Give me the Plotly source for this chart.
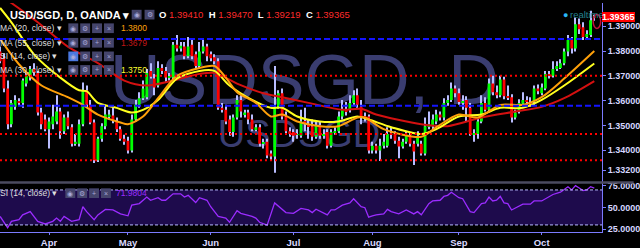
import plotly.graph_objects as go

# ---------------- data ----------------
month_labels = ["Apr", "May", "Jun", "Jul", "Aug", "Sep", "Oct"]
month_first_bar = [13, 34, 56, 78, 99, 122, 144]
price_ticks = [1.332, 1.34, 1.35, 1.36, 1.37, 1.38, 1.39]
rsi_ticks = [25, 50, 75]

open_ = [1.3798,1.3771,1.3649,1.3505,1.3575,1.3595,1.3591,1.3669,1.3693,1.3728,
         1.3712,1.3552,1.3524,1.3485,1.3505,1.3516,1.3556,1.3477,1.3532,1.3493,
         1.3426,1.3426,1.3505,1.3642,1.3583,1.3512,1.3360,1.3446,1.3497,1.3536,
         1.3540,1.3516,1.3485,1.3446,1.3438,1.3399,1.3524,1.3583,1.3610,1.3614,
         1.3720,1.3689,1.3661,1.3732,1.3720,1.3693,1.3693,1.3826,1.3810,1.3818,
         1.3779,1.3826,1.3787,1.3740,1.3798,1.3818,1.3787,1.3775,1.3759,1.3571,
         1.3563,1.3524,1.3473,1.3532,1.3603,1.3544,1.3552,1.3524,1.3485,1.3493,
         1.3426,1.3434,1.3387,1.3375,1.3575,1.3630,1.3536,1.3477,1.3473,1.3462,
         1.3458,1.3516,1.3505,1.3497,1.3454,1.3501,1.3458,1.3473,1.3418,1.3473,
         1.3477,1.3536,1.3563,1.3563,1.3591,1.3622,1.3575,1.3536,1.3536,1.3399,
         1.3418,1.3399,1.3418,1.3418,1.3465,1.3465,1.3438,1.3415,1.3434,1.3458,
         1.3426,1.3426,1.3426,1.3387,1.3497,1.3497,1.3516,1.3544,1.3532,1.3591,
         1.3603,1.3649,1.3630,1.3591,1.3603,1.3571,1.3465,1.3465,1.3516,1.3591,
         1.3563,1.3669,1.3634,1.3622,1.3685,1.3618,1.3614,1.3532,1.3556,1.3587,
         1.3603,1.3595,1.3595,1.3649,1.3630,1.3649,1.3708,1.3700,1.3728,1.3732,
         1.3751,1.3798,1.3845,1.3810,1.3908,1.3896,1.3857,1.3865,1.39410]

high = [1.3818,1.3790,1.3681,1.3603,1.3622,1.3610,1.3689,1.3712,1.3740,1.3751,
        1.3720,1.3571,1.3544,1.3532,1.3583,1.3622,1.3571,1.3544,1.3556,1.3505,
        1.3465,1.3524,1.3673,1.3661,1.3603,1.3524,1.3454,1.3509,1.3583,1.3563,
        1.3571,1.3532,1.3497,1.3462,1.3454,1.3544,1.3603,1.3634,1.3681,1.3728,
        1.3751,1.3708,1.3759,1.3747,1.3736,1.3712,1.3837,1.3865,1.3837,1.3837,
        1.3857,1.3845,1.3798,1.3837,1.3845,1.3830,1.3798,1.3787,1.3771,1.3591,
        1.3583,1.3540,1.3544,1.3622,1.3622,1.3563,1.3563,1.3544,1.3505,1.3505,
        1.3446,1.3446,1.3399,1.3740,1.3642,1.3649,1.3556,1.3493,1.3485,1.3485,
        1.3563,1.3571,1.3524,1.3524,1.3516,1.3516,1.3485,1.3485,1.3485,1.3493,
        1.3556,1.3603,1.3595,1.3622,1.3642,1.3649,1.3603,1.3552,1.3544,1.3434,
        1.3426,1.3446,1.3465,1.3493,1.3493,1.3477,1.3454,1.3446,1.3473,1.3473,
        1.3438,1.3477,1.3438,1.3532,1.3556,1.3544,1.3563,1.3556,1.3610,1.3622,
        1.3673,1.3661,1.3649,1.3622,1.3618,1.3591,1.3485,1.3532,1.3622,1.3614,
        1.3689,1.3700,1.3661,1.3700,1.3696,1.3661,1.3626,1.3563,1.3606,1.3634,
        1.3618,1.3614,1.3661,1.3665,1.3669,1.3720,1.3720,1.3759,1.3759,1.3767,
        1.3810,1.3865,1.3857,1.3935,1.3931,1.3916,1.3884,1.3963,1.39470]

low = [1.3751,1.3634,1.3485,1.3493,1.3563,1.3579,1.3571,1.3657,1.3681,1.3700,
       1.3540,1.3485,1.3477,1.3407,1.3485,1.3505,1.3446,1.3465,1.3485,1.3415,
       1.3418,1.3415,1.3497,1.3571,1.3505,1.3348,1.3352,1.3434,1.3485,1.3524,
       1.3509,1.3473,1.3438,1.3422,1.3387,1.3391,1.3516,1.3571,1.3603,1.3606,
       1.3689,1.3622,1.3653,1.3708,1.3673,1.3681,1.3685,1.3798,1.3798,1.3767,
       1.3771,1.3767,1.3728,1.3732,1.3790,1.3759,1.3759,1.3747,1.3563,1.3552,
       1.3505,1.3458,1.3454,1.3524,1.3532,1.3532,1.3505,1.3477,1.3477,1.3415,
       1.3407,1.3368,1.3360,1.3309,1.3567,1.3524,1.3465,1.3454,1.3434,1.3446,
       1.3450,1.3477,1.3446,1.3438,1.3446,1.3446,1.3446,1.3407,1.3411,1.3462,
       1.3469,1.3524,1.3540,1.3552,1.3583,1.3571,1.3505,1.3516,1.3387,1.3387,
       1.3387,1.3356,1.3407,1.3411,1.3446,1.3426,1.3368,1.3407,1.3426,1.3415,
       1.3340,1.3415,1.3379,1.3379,1.3485,1.3485,1.3505,1.3520,1.3520,1.3579,
       1.3595,1.3614,1.3583,1.3563,1.3516,1.3458,1.3434,1.3446,1.3509,1.3556,
       1.3556,1.3622,1.3610,1.3614,1.3606,1.3603,1.3512,1.3524,1.3548,1.3579,
       1.3583,1.3575,1.3583,1.3626,1.3622,1.3642,1.3689,1.3693,1.3720,1.3728,
       1.3743,1.3779,1.3790,1.3798,1.3869,1.3845,1.3845,1.3857,1.39219]

close = [1.3759,1.3649,1.3505,1.3591,1.3603,1.3591,1.3681,1.3700,1.3728,1.3712,
         1.3552,1.3505,1.3485,1.3516,1.3536,1.3556,1.3477,1.3532,1.3497,1.3426,
         1.3434,1.3505,1.3642,1.3583,1.3512,1.3360,1.3446,1.3497,1.3544,1.3544,
         1.3520,1.3485,1.3446,1.3434,1.3399,1.3524,1.3583,1.3610,1.3649,1.3712,
         1.3700,1.3653,1.3732,1.3720,1.3693,1.3696,1.3826,1.3810,1.3822,1.3779,
         1.3818,1.3779,1.3740,1.3798,1.3818,1.3779,1.3771,1.3759,1.3571,1.3563,
         1.3516,1.3473,1.3532,1.3603,1.3556,1.3552,1.3524,1.3485,1.3493,1.3426,
         1.3430,1.3379,1.3375,1.3575,1.3630,1.3536,1.3477,1.3465,1.3458,1.3465,
         1.3516,1.3512,1.3497,1.3454,1.3501,1.3458,1.3462,1.3418,1.3473,1.3477,
         1.3536,1.3563,1.3556,1.3591,1.3622,1.3583,1.3536,1.3532,1.3399,1.3418,
         1.3399,1.3418,1.3434,1.3465,1.3462,1.3438,1.3415,1.3434,1.3458,1.3426,
         1.3395,1.3458,1.3387,1.3497,1.3505,1.3524,1.3544,1.3532,1.3591,1.3603,
         1.3649,1.3630,1.3595,1.3599,1.3571,1.3465,1.3469,1.3516,1.3591,1.3563,
         1.3669,1.3634,1.3622,1.3685,1.3618,1.3614,1.3532,1.3552,1.3591,1.3603,
         1.3595,1.3583,1.3649,1.3638,1.3653,1.3708,1.3700,1.3728,1.3740,1.3751,
         1.3798,1.3845,1.3810,1.3908,1.3888,1.3857,1.3869,1.3924,1.39365]

# moving averages, read at sample bars
ema20_bar = [0,5,11,18,22,26,32,34,38,42,47,53,57,60,63,68,72,75,79,85,
             90,95,97,102,112,116,122,127,133,139,144,150,158]
ema20_val = [1.3849,1.3747,1.3661,1.3614,1.3583,1.3544,1.3512,1.3505,1.3536,1.3610,
             1.3700,1.3732,1.3740,1.3693,1.3634,1.3591,1.3536,1.3544,1.3516,1.3497,
             1.3497,1.3532,1.3532,1.3485,1.3454,1.3493,1.3544,1.3532,1.3583,1.3583,
             1.3614,1.3689,1.3800]
ema30_bar = [0,3,9,16,21,23,26,31,35,38,42,47,53,57,61,67,72,75,79,85,
             90,95,98,104,112,116,122,128,133,139,144,150,158]
ema30_val = [1.3974,1.3916,1.3787,1.3693,1.3642,1.3638,1.3591,1.3571,1.3552,1.3563,
             1.3603,1.3689,1.3720,1.3720,1.3661,1.3603,1.3571,1.3571,1.3536,1.3516,
             1.3516,1.3536,1.3524,1.3493,1.3465,1.3485,1.3536,1.3544,1.3571,1.3571,
             1.3603,1.3661,1.3750]
ema55_bar = [0,3,10,18,26,33,39,46,53,57,63,70,75,82,91,96,100,112,119,128,137,144,150,158]
ema55_val = [1.4025,1.3994,1.3916,1.3818,1.3751,1.3681,1.3661,1.3681,1.3708,1.3712,
             1.3669,1.3630,1.3614,1.3591,1.3563,1.3567,1.3544,1.3505,1.3497,1.3532,
             1.3556,1.3575,1.3610,1.3679]

rsi_bar = [0,2,3,5,6,8,10,12,14,15, 16,17,19,21,22,23,25,26,28,30,
           32,34,35,37,39,40,42,43,44,46, 48,49,50,52,53,55,56,58,60,61,
           63,64,67,68,69,71,73,75,76,78, 80,82,83,84,85,87,88,89,91,93,
           94,96,97,98,99,100,102,103,104,106, 108,110,111,112,114,115,117,118,119,120,
           122,123,125,126,128,129,130,131,132,133, 134,135,136,138,139,141,142,144,146,147,
           149,150,151,152,153,154,155,156,157,158]
rsi_val = [39.7,26.7,34.1,36.0,41.5,45.2,34.1,31.1,34.1,37.8, 34.1,39.7,34.1,36.0,50.8,45.2,36.0,41.5,47.8,47.1,
           42.6,40.4,52.6,54.4,61.9,58.2,61.1,58.2,58.2,65.6, 65.6,61.9,63.8,55.6,61.1,58.2,50.8,39.7,37.8,33.0,
           46.3,43.3,39.7,37.8,33.0,29.7,55.2,47.1,44.1,43.3, 48.9,47.1,44.1,48.0,46.0,41.5,47.1,47.1,52.6,55.2,
           60.0,50.8,49.7,38.9,40.4,41.5,42.6,47.8,45.2,42.6, 47.1,42.6,45.2,41.5,54.4,57.4,58.2,62.6,63.8,67.4,
           61.1,60.0,45.2,44.1,54.4,55.2,61.9,57.4,58.2,62.6, 55.2,54.4,47.1,51.5,53.7,53.7,57.4,57.4,62.6,64.8,
           67.4,71.1,73.7,70.0,74.9,72.2,69.3,70.0,73.7,71.9804]

support_blue = [1.3849, 1.3579]
support_red = [1.3700, 1.3465, 1.3360]

# ---------------- geometry / style ----------------
PW, PH = 608, 236
X0, X1 = -0.034, 160.05
Y0, Y1 = 1.32736, 1.3994
R0, R1 = 21.9, 77.4
FONT = "Liberation Sans"
AXC = "#7b7bff"


def fx(p):
    return p / PW


def fy(p):
    return (PH - p) / PH


bars = list(range(len(close)))
body_base = [min(o, c) for o, c in zip(open_, close)]
body_h = [max(abs(c - o), 0.0003) for o, c in zip(open_, close)]
body_col = ["#00ff00" if c >= o else "#ff0000" for o, c in zip(open_, close)]
wick_h = [h - l for h, l in zip(high, low)]

fig = go.Figure()
fig.add_trace(go.Bar(x=bars, y=wick_h, base=low, width=0.27,
                     marker=dict(color="#b9bdff", line=dict(width=0)),
                     xaxis="x", yaxis="y", hoverinfo="skip"))
fig.add_trace(go.Bar(x=bars, y=body_h, base=body_base, width=0.74,
                     marker=dict(color=body_col, line=dict(width=0)),
                     xaxis="x", yaxis="y", hoverinfo="skip"))
for bx, vals, col in [(ema55_bar, ema55_val, "#d41010"),
                      (ema30_bar, ema30_val, "#ffff1e"),
                      (ema20_bar, ema20_val, "#ffa00a")]:
    fig.add_trace(go.Scatter(x=bx, y=vals, mode="lines",
                             line=dict(color=col, width=2, shape="spline", smoothing=0.8),
                             xaxis="x", yaxis="y", hoverinfo="skip"))
fig.add_trace(go.Scatter(x=rsi_bar, y=rsi_val, mode="lines",
                         line=dict(color="#9b2cff", width=1.3),
                         xaxis="x2", yaxis="y2", hoverinfo="skip"))

shapes = []
# watermark (below traces)
shapes.append(dict(type="rect", xref="paper", yref="paper", x0=fx(104), x1=fx(511),
                   y0=fy(104), y1=fy(40), line=dict(width=0), fillcolor="rgba(0,0,0,0)",
                   layer="below",
                   label=dict(text="USDSGD, D", textposition="middle center",
                              font=dict(family=FONT, size=70, color="#3a3d70"))))
shapes.append(dict(type="rect", xref="paper", yref="paper", x0=fx(212), x1=fx(392),
                   y0=fy(148), y1=fy(114), line=dict(width=0), fillcolor="rgba(0,0,0,0)",
                   layer="below",
                   label=dict(text="USDSGD", textposition="middle center",
                              font=dict(family=FONT, size=38, color="#3a3d70"))))
# RSI band
shapes.append(dict(type="rect", xref="paper", yref="y2", x0=0, x1=1, y0=30, y1=70,
                   fillcolor="#1e0b4c", line=dict(width=0), layer="below"))
for lv in (70, 30):
    shapes.append(dict(type="line", xref="paper", yref="y2", x0=0, x1=1, y0=lv, y1=lv,
                       line=dict(color="#b9b9ff", width=1, dash="3px,2px")))
# pane separator
shapes.append(dict(type="line", xref="paper", yref="paper", x0=0, x1=640 / PW,
                   y0=fy(185), y1=fy(185), line=dict(color="#4b4b60", width=2.5)))
# horizontal levels
for lv in support_blue:
    shapes.append(dict(type="line", xref="paper", yref="y", x0=0, x1=1, y0=lv, y1=lv,
                       line=dict(color="#1414ff", width=2, dash="6px,3px")))
for lv in support_red:
    shapes.append(dict(type="line", xref="paper", yref="y", x0=0, x1=1, y0=lv, y1=lv,
                       line=dict(color="#ff0000", width=2, dash="2px,3px")))
# marker ellipse on the last candle
shapes.append(dict(type="circle", xref="x", yref="y", x0=157.7, x1=159.7,
                   y0=1.3891, y1=1.3948, line=dict(color="#c0103a", width=1.5)))

annotations = []


def txt(x, y, s, color="#e6e6e6", size=8.5, anchor="left"):
    annotations.append(dict(x=fx(x), y=fy(y), xref="paper", yref="paper", text=s,
                            showarrow=False, xanchor=anchor, yanchor="middle",
                            borderwidth=0, borderpad=0,
                            font=dict(family=FONT, size=size, color=color)))


def icons(xs, yc, glyphs, first_col="#45456c"):
    for k, (x0, g) in enumerate(zip(xs, glyphs)):
        shapes.append(dict(type="rect", xref="paper", yref="paper",
                           x0=fx(x0), x1=fx(x0 + 10), y0=fy(yc + 5), y1=fy(yc - 5),
                           fillcolor=first_col if k == 0 else "#45456c",
                           line=dict(width=0)))
        txt(x0 + 5, yc, g, "#a8a8d8", 7, "center")


# header
txt(10, 12, "<b>USD/SGD, D, OANDA ▾</b>", "#ffffff", 11)
icons([133, 146], 12, ["◉", "⚙"])
red = "#ff2b2b"
ohlc = (f"<b>O</b> <span style='color:{red}'>{open_[-1]:.5f}</span>  "
        f"<b>H</b> <span style='color:{red}'>{high[-1]:.5f}</span>  "
        f"<b>L</b> <span style='color:{red}'>{low[-1]:.5f}</span>  "
        f"<b>C</b> <span style='color:{red}'>{close[-1]:.5f}</span>")
txt(161, 12, ohlc, "#ffffff", 9.5)

legend_rows = [
    (26, "MA (20, close) ▾", f"{ema20_val[-1]:.4f}", "#ffa00a", "#45456c"),
    (41, "MA (55, close) ▾", f"{ema55_val[-1]:.4f}", "#c41616", "#45456c"),
    (55, "SI (14, close) ▾", "", "#9b2cff", "#4a78e0"),
    (69, "MA (30, close) ▾", f"{ema30_val[-1]:.4f}", "#ffff33", "#45456c"),
]
for yc, label, val, vcol, first in legend_rows:
    txt(0.5, yc, label, "#dedede", 8.5)
    icons([69, 81, 93, 105], yc, ["◉", "⚙", "+", "×"], first)
    if val:
        txt(122, yc, val, vcol, 8.5)

txt(0.5, 196, "SI (14, close) ▾", "#dedede", 8.5)
icons([66, 78, 90, 102], 196, ["◉", "⚙", "+", "×"])
txt(117, 196, f"{rsi_val[-1]:.4f}", "#9b2cff", 8.5)

# realtime marker + last price label
txt(571, 12, "●", "#29b6f6", 9, "center")
txt(576, 12, "realtime", "#23808e", 9.5)
annotations.append(dict(x=1, y=close[-1], xref="paper", yref="y",
                        text=f"<b>{close[-1]:.5f}</b>", showarrow=False,
                        xanchor="left", yanchor="middle", bgcolor="#ff0000",
                        borderwidth=0, borderpad=0,
                        font=dict(family=FONT, size=9, color="#ffffff")))

tickfont = dict(family=FONT, size=9, color="#d6d6ff")
fig.update_layout(
    width=640, height=248,
    margin=dict(l=0, r=32, t=0, b=12, pad=0),
    paper_bgcolor="#000000", plot_bgcolor="#000000",
    showlegend=False, barmode="overlay", hovermode=False,
    xaxis=dict(domain=[0, 1], range=[X0, X1], anchor="y", showticklabels=False,
               showgrid=False, zeroline=False, showline=False, ticks=""),
    yaxis=dict(domain=[fy(184), 1], range=[Y0, Y1], side="right", anchor="x",
               tickvals=price_ticks, ticktext=[f"<b>{v:.5f}</b>" for v in price_ticks],
               showgrid=False, zeroline=False,
               showline=True, linecolor=AXC, linewidth=1, ticks="outside", ticklen=3,
               tickcolor=AXC, tickfont=tickfont),
    xaxis2=dict(domain=[0, 1], range=[X0, X1], anchor="y2", tickvals=month_first_bar,
                ticktext=[f"<b>{m}</b>" for m in month_labels],
                ticks="outside", ticklen=2, tickcolor=AXC,
                showline=True, linecolor=AXC, linewidth=1, showgrid=False, zeroline=False,
                tickfont=dict(family=FONT, size=9.5, color="#dadaff")),
    yaxis2=dict(domain=[0, fy(186)], range=[R0, R1], side="right", anchor="x2",
                tickvals=rsi_ticks, ticktext=[f"<b>{v:.4f}</b>" for v in rsi_ticks],
                showgrid=False, zeroline=False,
                showline=True, linecolor=AXC, linewidth=1, ticks="outside", ticklen=3,
                tickcolor=AXC, tickfont=tickfont),
    shapes=shapes,
    annotations=annotations,
)

fig.write_html("out.html")
